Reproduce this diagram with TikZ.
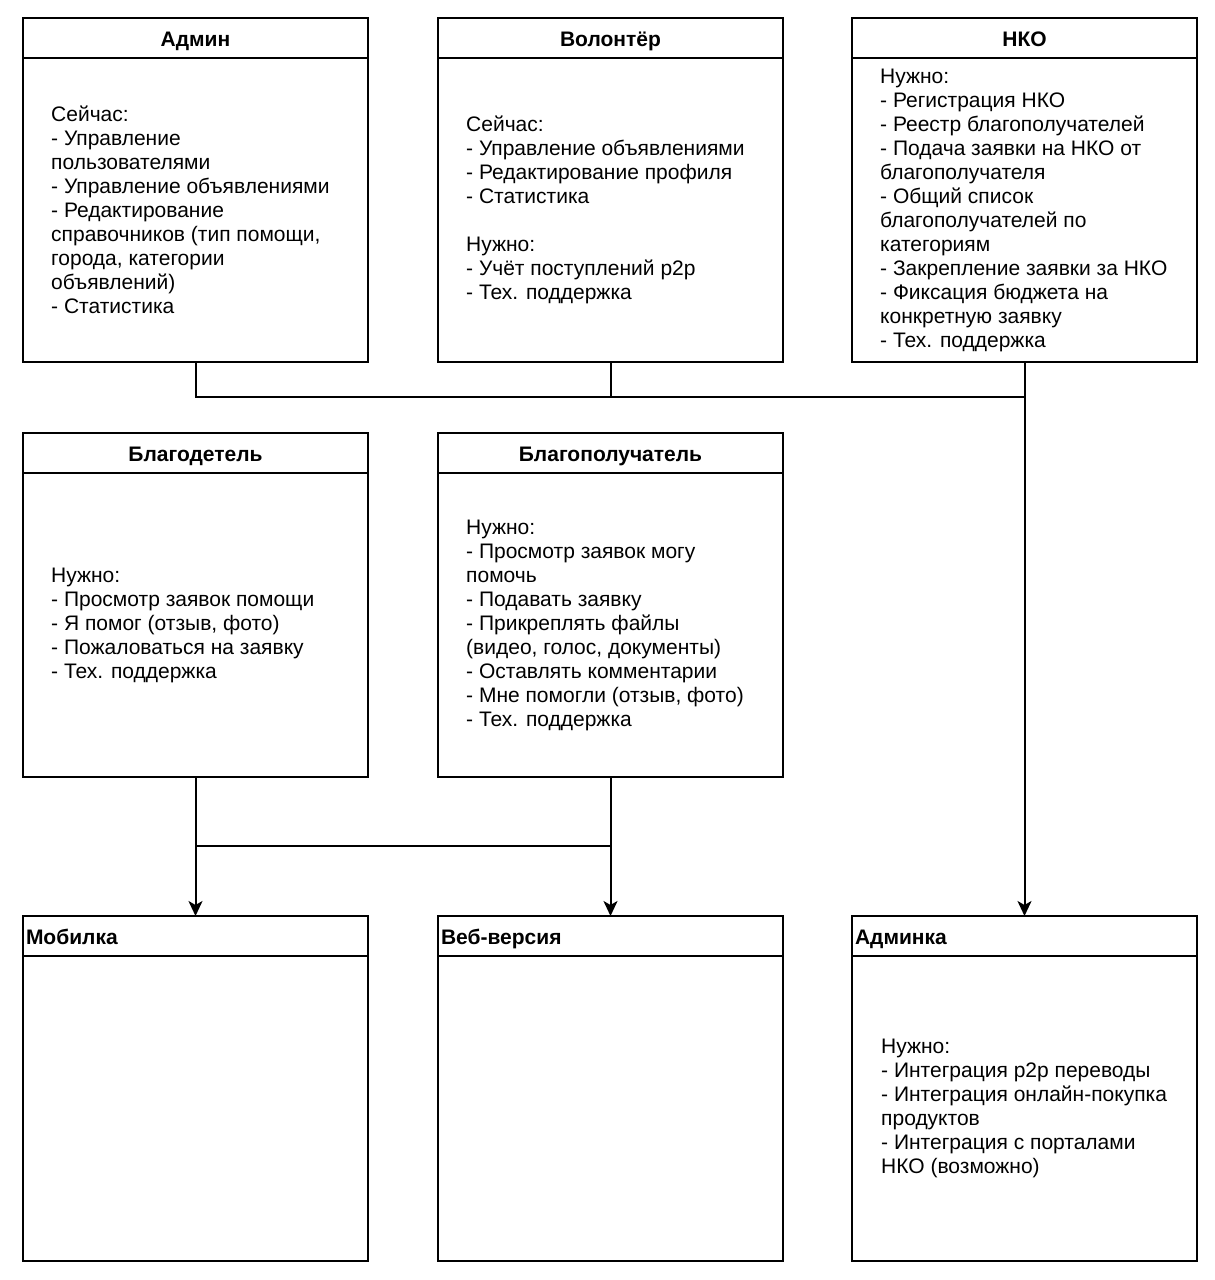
\documentclass[tikz,border=0pt]{standalone}
\usepackage{fontspec}
\setmainfont{Liberation Sans}
\usepackage{tikz}
\usetikzlibrary{arrows.meta, positioning}

\begin{document}
\begin{tikzpicture}[x=1pt, y=-1pt]
    % Define styles
    \tikzstyle{head} = [rectangle, draw, line width=1.8pt, outer sep=0pt, inner sep=0pt, minimum width=345pt, minimum height=40pt, text height=19pt, text depth=2pt, font=\fontsize{21}{24}\selectfont\bfseries]
    \tikzstyle{headleft} = [head, text width=339pt, inner xsep=3pt, align=left]
    \tikzstyle{body} = [rectangle, draw, line width=1.8pt, outer sep=0pt, inner sep=0pt, minimum width=345pt, minimum height=304pt]
    \tikzstyle{note} = [anchor=west, inner sep=0pt, align=left, font=\fontsize{21}{24}\selectfont]
    \tikzstyle{line} = [line width=2pt]
    \tikzstyle{arrow} = [line, -{Stealth[length=15pt, width=14pt, inset=4pt]}]

    \useasboundingbox (0,0) rectangle (1215,1280);

    % Admin
    \node[head] (admin) at (195.5, 38) {Админ};
    \node[body, below=0pt of admin] (adminbody) {};
    \node[note] (admintext) at ([xshift=28pt]adminbody.west) {Сейчас:\\- Управление\\пользователями\\- Управление объявлениями\\- Редактирование\\справочников (тип помощи,\\города, категории\\объявлений)\\- Статистика};

    % Volunteer
    \node[head] (vol) at (610.5, 38) {Волонтёр};
    \node[body, below=0pt of vol] (volbody) {};
    \node[note] (voltext) at ([xshift=28pt]volbody.west) {Сейчас:\\- Управление объявлениями\\- Редактирование профиля\\- Статистика\\[24pt]Нужно:\\- Учёт поступлений p2p\\- Тех. поддержка};

    % NKO
    \node[head] (nko) at (1024.5, 38) {НКО};
    \node[body, below=0pt of nko] (nkobody) {};
    \node[note] (nkotext) at ([xshift=28pt]nkobody.west) {Нужно:\\- Регистрация НКО\\- Реестр благополучателей\\- Подача заявки на НКО от\\благополучателя\\- Общий список\\благополучателей по\\категориям\\- Закрепление заявки за НКО\\- Фиксация бюджета на\\конкретную заявку\\- Тех. поддержка};

    % Benefactor
    \node[head] (benef) at (195.5, 453) {Благодетель};
    \node[body, below=0pt of benef] (benefbody) {};
    \node[note] (beneftext) at ([xshift=28pt]benefbody.west) {Нужно:\\- Просмотр заявок помощи\\- Я помог (отзыв, фото)\\- Пожаловаться на заявку\\- Тех. поддержка};

    % Recipient
    \node[head] (recip) at (610.5, 453) {Благополучатель};
    \node[body, below=0pt of recip] (recipbody) {};
    \node[note] (reciptext) at ([xshift=28pt]recipbody.west) {Нужно:\\- Просмотр заявок могу\\помочь\\- Подавать заявку\\- Прикреплять файлы\\(видео, голос, документы)\\- Оставлять комментарии\\- Мне помогли (отзыв, фото)\\- Тех. поддержка};

    % Platforms
    \node[headleft] (mob) at (195.5, 936) {Мобилка};
    \node[body, below=0pt of mob, minimum height=305pt] (mobbody) {};
    \node[headleft] (web) at (610.5, 936) {Веб-версия};
    \node[body, below=0pt of web, minimum height=305pt] (webbody) {};
    \node[headleft] (adminka) at (1024.5, 936) {Админка};
    \node[body, below=0pt of adminka, minimum height=305pt] (adminkabody) {};
    \node[note] (adminkatext) at ([xshift=29pt]adminkabody.west) {Нужно:\\- Интеграция p2p переводы\\- Интеграция онлайн-покупка\\продуктов\\- Интеграция с порталами\\НКО (возможно)};

    % Connectors
    \coordinate (topbus) at ([yshift=-35pt]adminbody.south);
    \coordinate (lowbus) at ([yshift=-69pt]benefbody.south);

    \draw[line] (adminbody.south) -- (topbus) -- (topbus -| nkobody.south);
    \draw[line] (volbody.south) -- (volbody.south |- topbus);
    \draw[arrow] (nkobody.south) -- (adminka.north);

    \draw[arrow] (benefbody.south) -- (mob.north);
    \draw[arrow] (recipbody.south) -- (web.north);
    \draw[line] (lowbus) -- (lowbus -| recipbody.south);

\end{tikzpicture}
\end{document}
